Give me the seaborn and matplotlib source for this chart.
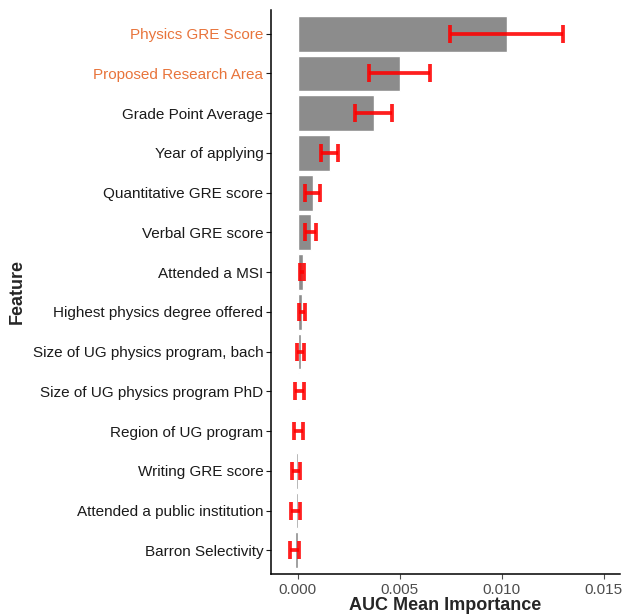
import matplotlib
matplotlib.use('Agg')
import matplotlib.pyplot as plt
import numpy as np
import pandas as pd
import seaborn as sns

# --- data ---
features = [
    'Physics GRE Score',
    'Proposed Research Area',
    'Grade Point Average',
    'Year of applying',
    'Quantitative GRE score',
    'Verbal GRE score',
    'Attended a MSI',
    'Highest physics degree offered',
    'Size of UG physics program, bach',
    'Size of UG physics program PhD',
    'Region of UG program',
    'Writing GRE score',
    'Attended a public institution',
    'Barron Selectivity',
]
importance = [0.01025, 0.0050, 0.00373, 0.00157, 0.00074, 0.00064, 0.00023,
              0.00020, 0.00013, 0.00003, 0.00002, -0.00010, -0.00008, -0.00015]
err_low = [0.00745, 0.0035, 0.0028, 0.00113, 0.00034, 0.00033, 0.00012,
           0.00004, -0.00003, -0.00016, -0.00020, -0.00028, -0.00034, -0.00037]
err_high = [0.0130, 0.00647, 0.00462, 0.00198, 0.00108, 0.00088, 0.00030,
            0.00035, 0.00031, 0.00031, 0.00023, 0.00010, 0.00012, 0.00003]
highlight = ['Physics GRE Score', 'Proposed Research Area']

df = pd.DataFrame({'Feature': features, 'Importance': importance,
                   'low': err_low, 'high': err_high})

sns.set_style('white')
plt.rcParams['font.family'] = ['Liberation Sans', 'DejaVu Sans']

fig = plt.figure(figsize=(6.23, 6.16), dpi=100)
ax = fig.add_axes([0.435, 0.068, 0.56, 0.916])

sns.barplot(data=df, x='Importance', y='Feature', order=features,
            orient='h', color='#8c8c8c', saturation=1, width=0.9, ax=ax)

mid = (df['low'] + df['high']) / 2
ax.errorbar(mid, np.arange(len(features)),
            xerr=[mid - df['low'], df['high'] - mid],
            fmt='none', ecolor='#ff0000', alpha=0.88, elinewidth=2.7,
            capsize=6.5, capthick=2.7, zorder=3)

ax.set_xlim(-0.00132, 0.0158)
ax.set_ylim(len(features) - 0.4, -0.6)
ax.set_xticks([0.0, 0.005, 0.010, 0.015])
ax.set_xticklabels(['0.000', '0.005', '0.010', '0.015'])
ax.tick_params(axis='x', labelsize=11, colors='#4d4d4d', length=3.5, pad=3)
ax.tick_params(axis='y', labelsize=11, colors='#1a1a1a', length=3.5, pad=2)
ax.tick_params(axis='both', direction='out', bottom=True, left=True, width=0.8)
for lab in ax.get_xticklabels():
    lab.set_color('#4d4d4d')
for lab in ax.get_yticklabels():
    lab.set_color('#e8743b' if lab.get_text() in highlight else '#1a1a1a')

for side in ['top', 'right']:
    ax.spines[side].set_visible(False)
for side in ['left', 'bottom']:
    ax.spines[side].set_color('black')
    ax.spines[side].set_linewidth(1.1)

ax.set_xlabel('AUC Mean Importance', fontsize=13, fontweight='bold', labelpad=0)
ax.set_ylabel('Feature', fontsize=13, fontweight='bold', labelpad=5)

fig.savefig('out.png', dpi=100)
